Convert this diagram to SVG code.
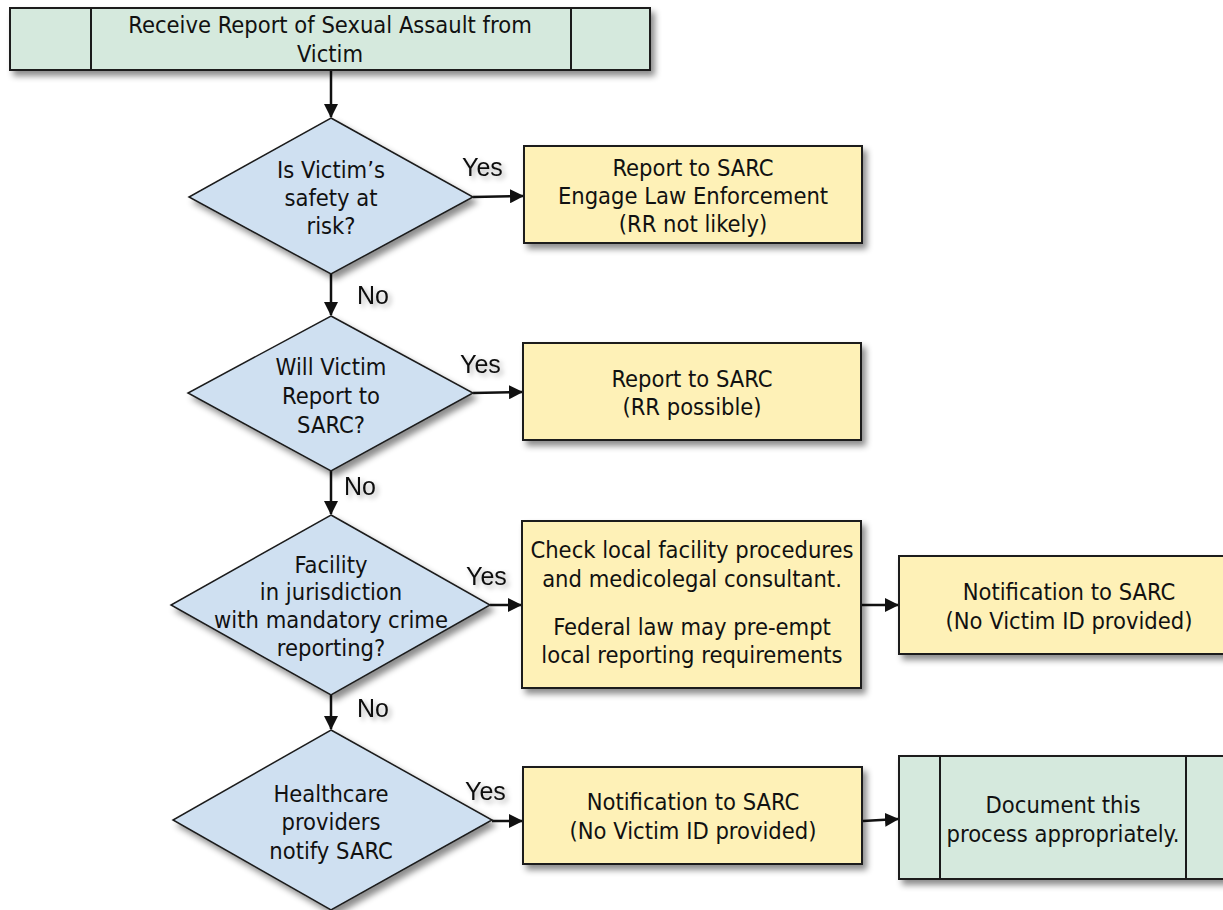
<svg xmlns="http://www.w3.org/2000/svg" width="1223" height="910" viewBox="0 0 1223 910">
<style>
.t{font-family:"DejaVu Sans Condensed","DejaVu Sans",sans-serif;font-size:23.5px;fill:#111;text-anchor:middle}
.lb{font-family:"Liberation Sans",Arial,sans-serif;font-size:25px;fill:#111;text-anchor:start}
.g{fill:#d5e9dd;stroke:#1a1a1a;stroke-width:2}
.b{fill:#cfe0f1;stroke:#1a1a1a;stroke-width:1.5}
.y{fill:#fef1b7;stroke:#1a1a1a;stroke-width:2}
.c{fill:none;stroke:#111;stroke-width:2.5}
.d{stroke:#1a1a1a;stroke-width:2}
</style>
<defs>
<filter id="sh" x="-10%" y="-10%" width="130%" height="130%">
<feDropShadow dx="4" dy="5" stdDeviation="3" flood-color="#000" flood-opacity="0.45"/>
</filter>
<filter id="ts" x="-20%" y="-20%" width="160%" height="160%">
<feDropShadow dx="3" dy="3" stdDeviation="2.5" flood-color="#000" flood-opacity="0.3"/>
</filter>
<marker id="ah" markerWidth="14" markerHeight="14" refX="13" refY="7" orient="auto" markerUnits="userSpaceOnUse">
<path d="M0,0 L14,7 L0,14 Z" fill="#111"/>
</marker>
</defs>

<g id="connectors">
<line class="c" x1="331" y1="71" x2="331" y2="117" marker-end="url(#ah)"/>
<line class="c" x1="473" y1="197" x2="523" y2="196" marker-end="url(#ah)"/>
<line class="c" x1="331" y1="274" x2="331" y2="315" marker-end="url(#ah)"/>
<line class="c" x1="473" y1="393" x2="522" y2="392" marker-end="url(#ah)"/>
<line class="c" x1="331" y1="471" x2="331" y2="514" marker-end="url(#ah)"/>
<line class="c" x1="490" y1="605" x2="521" y2="605" marker-end="url(#ah)"/>
<line class="c" x1="862" y1="605" x2="898" y2="605" marker-end="url(#ah)"/>
<line class="c" x1="331" y1="695" x2="331" y2="729" marker-end="url(#ah)"/>
<line class="c" x1="492" y1="821" x2="522" y2="821" marker-end="url(#ah)"/>
<line class="c" x1="863" y1="821" x2="898" y2="819" marker-end="url(#ah)"/>
<g filter="url(#ts)">
<text class="lb" x="462" y="176">Yes</text>
<text class="lb" x="357" y="304">No</text>
<text class="lb" x="460" y="373">Yes</text>
<text class="lb" x="344" y="495">No</text>
<text class="lb" x="466" y="585">Yes</text>
<text class="lb" x="357" y="717">No</text>
<text class="lb" x="465" y="800">Yes</text>
</g>
</g>

<g id="start">
<rect class="g" x="10" y="8" width="640" height="62" filter="url(#sh)"/>
<line class="d" x1="91" y1="8" x2="91" y2="70"/>
<line class="d" x1="571" y1="8" x2="571" y2="70"/>
<text class="t" x="330" y="33">Receive Report of Sexual Assault from</text>
<text class="t" x="330" y="62">Victim</text>
</g>

<g id="q1">
<polygon class="b" points="331,118 473,197 331,274 189,197" filter="url(#sh)"/>
<text class="t" x="331" y="178">Is Victim’s</text>
<text class="t" x="331" y="206">safety at</text>
<text class="t" x="331" y="234">risk?</text>
</g>

<g id="a1">
<rect class="y" x="524" y="146" width="338" height="97" filter="url(#sh)"/>
<text class="t" x="693" y="176">Report to SARC</text>
<text class="t" x="693" y="204">Engage Law Enforcement</text>
<text class="t" x="693" y="232">(RR not likely)</text>
</g>

<g id="q2">
<polygon class="b" points="331,316 473,393 331,471 188,393" filter="url(#sh)"/>
<text class="t" x="331" y="375">Will Victim</text>
<text class="t" x="331" y="404">Report to</text>
<text class="t" x="331" y="433">SARC?</text>
</g>

<g id="a2">
<rect class="y" x="523" y="343" width="338" height="97" filter="url(#sh)"/>
<text class="t" x="692" y="387">Report to SARC</text>
<text class="t" x="692" y="415">(RR possible)</text>
</g>

<g id="q3">
<polygon class="b" points="331,515 490,605 331,695 171,605" filter="url(#sh)"/>
<text class="t" x="331" y="573">Facility</text>
<text class="t" x="331" y="600">in jurisdiction</text>
<text class="t" x="331" y="628">with mandatory crime</text>
<text class="t" x="331" y="656">reporting?</text>
</g>

<g id="a3">
<rect class="y" x="522" y="521" width="339" height="167" filter="url(#sh)"/>
<text class="t" x="692" y="558">Check local facility procedures</text>
<text class="t" x="692" y="587">and medicolegal consultant.</text>
<text class="t" x="692" y="635">Federal law may pre-empt</text>
<text class="t" x="692" y="663">local reporting requirements</text>
</g>

<g id="a4">
<rect class="y" x="899" y="556" width="340" height="98" filter="url(#sh)"/>
<text class="t" x="1069" y="600">Notification to SARC</text>
<text class="t" x="1069" y="629">(No Victim ID provided)</text>
</g>

<g id="q4">
<polygon class="b" points="331,730 492,820 331,910 173,820" filter="url(#sh)"/>
<text class="t" x="331" y="802">Healthcare</text>
<text class="t" x="331" y="830">providers</text>
<text class="t" x="331" y="859">notify SARC</text>
</g>

<g id="a5">
<rect class="y" x="523" y="767" width="339" height="97" filter="url(#sh)"/>
<text class="t" x="693" y="810">Notification to SARC</text>
<text class="t" x="693" y="839">(No Victim ID provided)</text>
</g>

<g id="end">
<rect class="g" x="899" y="756" width="328" height="123" filter="url(#sh)"/>
<line class="d" x1="940" y1="756" x2="940" y2="879"/>
<line class="d" x1="1186" y1="756" x2="1186" y2="879"/>
<text class="t" x="1063" y="813">Document this</text>
<text class="t" x="1063" y="842">process appropriately.</text>
</g>
</svg>
